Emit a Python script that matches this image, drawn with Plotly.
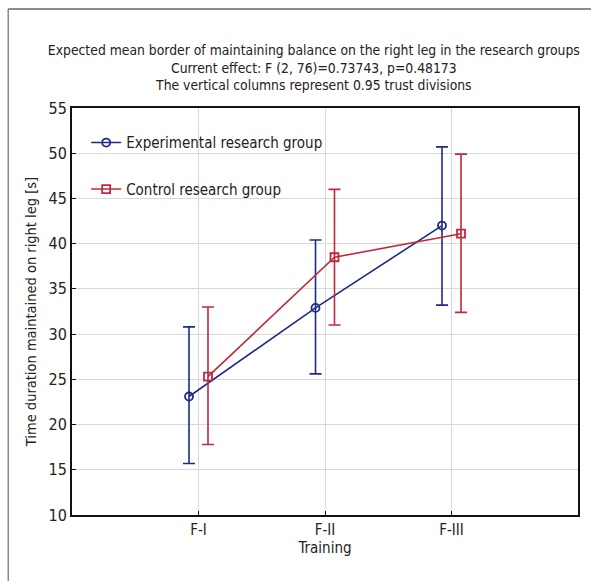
import plotly.graph_objects as go

categories = ["F-I", "F-II", "F-III"]
exp_mean = [23.1, 32.9, 42.0]
exp_upper = [30.8, 40.4, 50.7]
exp_lower = [15.7, 25.6, 33.2]
ctrl_mean = [25.3, 38.5, 41.1]
ctrl_upper = [33.0, 46.0, 49.9]
ctrl_lower = [17.8, 31.0, 32.4]
y_ticks = [10, 15, 20, 25, 30, 35, 40, 45, 50, 55]

FONT = "DejaVu Sans Condensed, Liberation Sans Narrow, Arial Narrow, sans-serif"
BLUE = "#1f2a86"
RED = "#c0283c"
TXT = "#222"

def errs(mean, up, lo):
    return [u - m for m, u in zip(mean, up)], [m - l for m, l in zip(mean, lo)]

eu, el = errs(exp_mean, exp_upper, exp_lower)
cu, cl = errs(ctrl_mean, ctrl_upper, ctrl_lower)

fig = go.Figure()
fig.add_trace(go.Scatter(
    x=categories, y=exp_mean, name="Experimental research group",
    mode="lines+markers", offsetgroup="exp", legendgroup="exp",
    line=dict(color=BLUE, width=1.6),
    marker=dict(symbol="circle-open", size=8, color=BLUE, line=dict(width=1.8)),
    error_y=dict(type="data", array=eu, arrayminus=el, color=BLUE, thickness=1.6, width=6),
))
fig.add_trace(go.Scatter(
    x=categories, y=ctrl_mean, name="Control research group",
    mode="lines+markers", offsetgroup="ctrl", legendgroup="ctrl",
    line=dict(color=RED, width=1.6),
    marker=dict(symbol="square-open", size=8, color=RED, line=dict(width=1.8)),
    error_y=dict(type="data", array=cu, arrayminus=cl, color=RED, thickness=1.6, width=6),
))

fig.update_layout(
    width=591, height=581,
    margin=dict(l=72, r=11, t=108, b=66),
    paper_bgcolor="white", plot_bgcolor="white",
    scattermode="group", scattergap=0.7,
    font=dict(family=FONT, size=15, color=TXT),
    title=dict(
        text="Expected mean border of maintaining balance on the right leg in the research groups<br>"
             "Current effect: F (2, 76)=0.73743, p=0.48173<br>"
             "The vertical columns represent 0.95 trust divisions",
        x=0.531, xanchor="center", y=0.906, yanchor="top",
        font=dict(family=FONT, size=13.8, color=TXT),
    ),
    showlegend=True,
    legend=dict(
        x=0.028, y=0.955, xanchor="left", yanchor="top",
        bgcolor="rgba(0,0,0,0)", font=dict(family=FONT, size=15, color=TXT),
        tracegroupgap=24, itemwidth=30,
    ),
    xaxis=dict(
        type="category", range=[-1, 3],
        title=dict(text="Training", standoff=2, font=dict(family=FONT, size=15)),
        tickfont=dict(size=15),
        showgrid=True, gridcolor="#d9d9d9", gridwidth=1,
        showline=True, linecolor="#111", linewidth=2, mirror=True,
        ticks="inside", ticklen=4, tickcolor="#111",
        zeroline=False,
    ),
    yaxis=dict(
        range=[10, 55], tickvals=y_ticks,
        title=dict(text="Time duration maintained on right leg [s]", standoff=8, font=dict(family=FONT, size=14.5)),
        tickfont=dict(size=16),
        showgrid=True, gridcolor="#d9d9d9", gridwidth=1,
        showline=True, linecolor="#111", linewidth=2, mirror=True,
        ticks="inside", ticklen=4, tickcolor="#111",
        zeroline=False,
    ),
)

# outer frame (left and top border lines)
pw, ph = 508.0, 407.0
fx = (8 - 72) / pw
fy = (515 - 9) / ph
fig.add_shape(type="line", xref="paper", yref="paper", x0=fx, x1=fx, y0=fy, y1=-0.3,
              line=dict(color="#888", width=1.5))
fig.add_shape(type="line", xref="paper", yref="paper", x0=fx, x1=1.2, y0=fy, y1=fy,
              line=dict(color="#666", width=1.5))

fig.write_html("out.html", config={"displayModeBar": False},
               post_script="document.body.style.margin='0';")
